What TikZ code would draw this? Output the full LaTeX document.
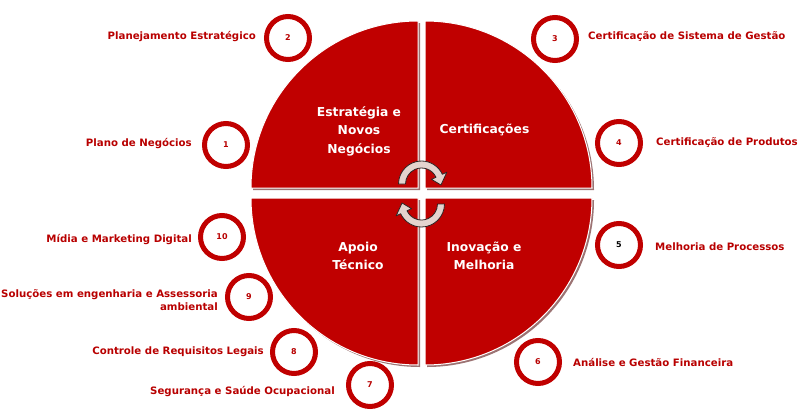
\documentclass[tikz,border=0pt]{standalone}
\usepackage{fontspec}
\setmainfont{DejaVu Sans}
\definecolor{qred}{HTML}{C00000}
\definecolor{tred}{HTML}{B80000}
\definecolor{qshadow}{HTML}{4A0000}
\definecolor{arrowfill}{HTML}{E4D3CE}
\definecolor{arrowline}{HTML}{2E2424}
\begin{document}
\begin{tikzpicture}[x=1pt,y=-1pt,
  quad/.style={fill=qred, draw=white, line width=1pt},
  quadshadow/.style={fill=qshadow, opacity=0.55},
  ring/.style={circle, draw=qred, line width=5pt, fill=white, minimum size=43pt, inner sep=0pt,
    font=\bfseries\fontsize{8}{8}\selectfont, text=tred},
  lbl/.style={font=\bfseries\fontsize{10.2}{13.5}\selectfont, text=tred, inner sep=0pt},
  ctr/.style={font=\bfseries\fontsize{12.3}{18.5}\selectfont, text=white, align=center, inner sep=0pt},
  arrowband/.style={fill=arrowfill, draw=arrowline, line width=0.8pt, line join=round}]
\useasboundingbox (0,0) rectangle (800,413);

% quadrants
\foreach \cx/\cy/\a in {418/188/180, 425/188/270, 425/198/0, 418/198/90} {
  \fill[quadshadow] (\cx+2,\cy+2) -- ++(\a:167) arc[start angle=\a, end angle=\a+90, radius=167] -- cycle;
  \path[quad] (\cx,\cy) -- ++(\a:167) arc[start angle=\a, end angle=\a+90, radius=167] -- cycle;
}

% cycle arrows
\begin{scope}[shift={(421.5,184)}]
  \path[arrowband] (180:23) arc[start angle=180, end angle=335, radius=23]
    -- (335:28) -- (3:19.5) -- (335:11) -- (335:16)
    arc[start angle=335, end angle=180, radius=16] -- cycle;
\end{scope}
\begin{scope}[shift={(421.5,204)}]
  \path[arrowband] (0:23) arc[start angle=0, end angle=155, radius=23]
    -- (155:28) -- (183:19.5) -- (155:11) -- (155:16)
    arc[start angle=155, end angle=0, radius=16] -- cycle;
\end{scope}

% centre labels
\node[ctr] (q1) at (359,131) {Estratégia e\\Novos\\Negócios};
\node[ctr] (q2) at (484.5,130) {Certificações};
\node[ctr] (q3) at (358,256) {Apoio\\Técnico};
\node[ctr] (q4) at (484,256) {Inovação e\\Melhoria};

% rings
\node[ring] (n1) at (226,145) {1};
\node[ring] (n2) at (288,38) {2};
\node[ring] (n3) at (555,39) {3};
\node[ring] (n4) at (619,143) {4};
\node[ring, text=black] (n5) at (619,245) {5};
\node[ring] (n6) at (538,362) {6};
\node[ring] (n7) at (370,385) {7};
\node[ring] (n8) at (294,352) {8};
\node[ring] (n9) at (249,297) {9};
\node[ring] (n10) at (222,237) {10};

% outer labels
\node[lbl, anchor=east] (l1) at (192,144) {Plano de Negócios};
\node[lbl, anchor=east] (l2) at (256,37) {Planejamento Estratégico};
\node[lbl, anchor=west] (l3) at (588,37) {Certificação de Sistema de Gestão};
\node[lbl, anchor=west] (l4) at (656,143) {Certificação de Produtos};
\node[lbl, anchor=west] (l5) at (655,247) {Melhoria de Processos};
\node[lbl, anchor=west] (l6) at (573,362) {Análise e Gestão Financeira};
\node[lbl, anchor=east] (l7) at (335,392) {Segurança e Saúde Ocupacional};
\node[lbl, anchor=east] (l8) at (264,352) {Controle de Requisitos Legais};
\node[lbl, anchor=east, align=right] (l9) at (218,300) {Soluções em engenharia e Assessoria\\ambiental};
\node[lbl, anchor=east] (l10) at (192,240) {Mídia e Marketing Digital};
\end{tikzpicture}
\end{document}
